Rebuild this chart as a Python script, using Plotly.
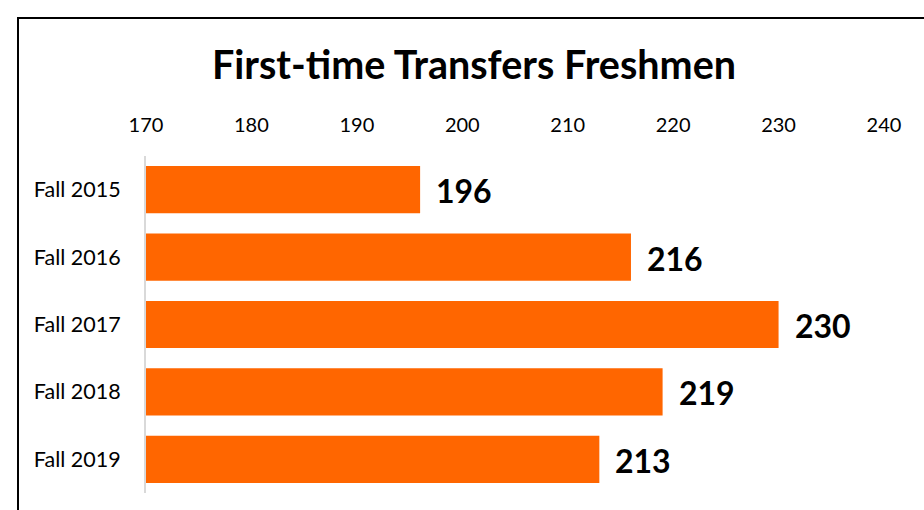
import plotly.graph_objects as go

categories = ["Fall 2015", "Fall 2016", "Fall 2017", "Fall 2018", "Fall 2019"]
values = [196, 216, 230, 219, 213]
tick_vals = [170, 180, 190, 200, 210, 220, 230, 240]
title_text = "First-time Transfers Freshmen"

W, H = 924, 510
L, R, T, B = 146, 40, 156, 17
pw, ph = W - L - R, H - T - B

FONT = "Lato"
ORANGE = "#FF6600"

fig = go.Figure(go.Bar(
    x=values, y=categories, orientation="h",
    marker=dict(color=ORANGE, line=dict(width=0)),
    hoverinfo="x+y",
))

for v, c in zip(values, categories):
    fig.add_annotation(x=v, y=c, xref="x", yref="y", text=str(v),
                       showarrow=False, xanchor="left", yanchor="middle",
                       xshift=14, yshift=-1,
                       font=dict(family=FONT, size=32, color="#000000", weight="bold"))

# outer chart border (extends beyond right/bottom edges)
fig.add_shape(type="rect", xref="paper", yref="paper",
              x0=(18 - L) / pw, x1=(W + 10 - L) / pw,
              y0=(H - B - (H + 10)) / ph, y1=(H - B - 18) / ph,
              line=dict(color="#000000", width=2), fillcolor="rgba(0,0,0,0)", layer="below")

fig.update_layout(
    width=W, height=H,
    margin=dict(l=L, r=R, t=T, b=B, pad=0),
    paper_bgcolor="white", plot_bgcolor="white",
    bargap=0.3,
    showlegend=False,
    font=dict(family=FONT, color="#000000"),
    title=dict(text=title_text, x=474 / W, xanchor="center", xref="container",
               y=1 - 65 / H, yanchor="middle", yref="container",
               font=dict(family=FONT, size=39.5, color="#000000", weight="bold")),
    xaxis=dict(range=[170, 240], side="top", tickvals=tick_vals,
               showgrid=False, zeroline=False, showline=False,
               ticks="", ticklabelstandoff=19,
               tickfont=dict(family=FONT, size=20, color="#000000"), fixedrange=True),
    yaxis=dict(autorange="reversed", showgrid=False, zeroline=False,
               showline=True, linecolor="#d9d9d9", linewidth=2,
               ticks="", ticklabelstandoff=19,
               tickfont=dict(family=FONT, size=21.5, color="#000000"), fixedrange=True),
)

fig.write_html("out.html",
               config={"displayModeBar": False, "staticPlot": False},
               post_script="document.body.style.margin='0';document.body.style.overflow='hidden';")
